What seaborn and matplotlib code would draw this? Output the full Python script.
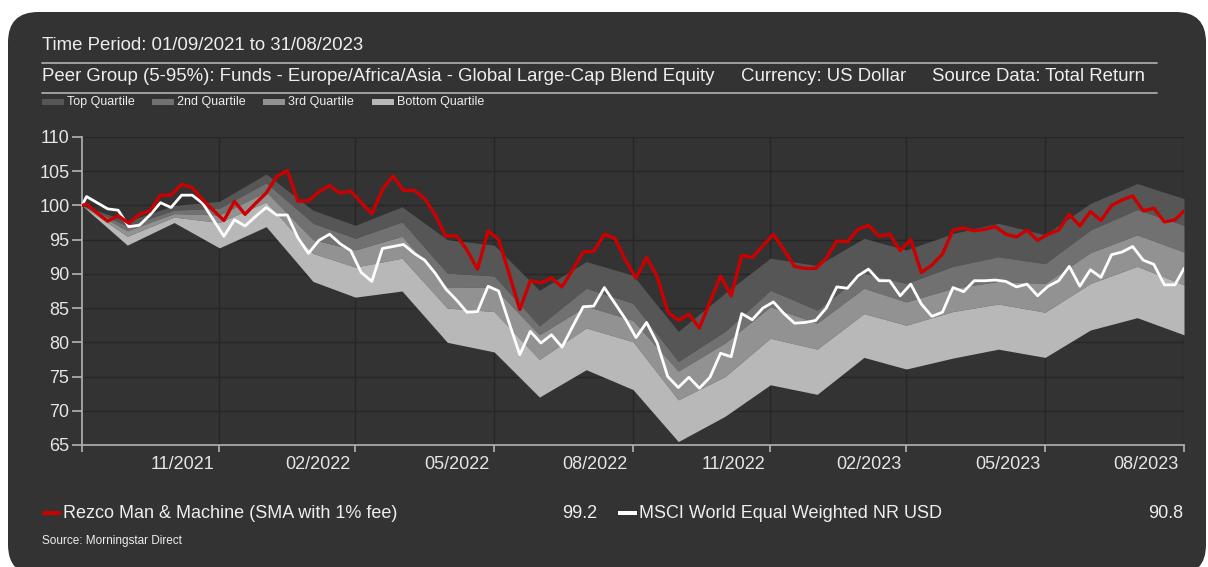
import pandas as pd
import matplotlib.pyplot as plt
import matplotlib.transforms as mtransforms
from matplotlib.patches import FancyBboxPatch, Rectangle
from matplotlib.lines import Line2D
import seaborn as sns

# month-end peer group percentiles (5-95%)
month_ends = ['2021-08-31', '2021-09-30', '2021-10-31', '2021-11-30', '2021-12-31',
              '2022-01-31', '2022-02-28', '2022-03-31', '2022-04-30', '2022-05-31',
              '2022-06-30', '2022-07-31', '2022-08-31', '2022-09-30', '2022-10-31',
              '2022-11-30', '2022-12-31', '2023-01-31', '2023-02-28', '2023-03-31',
              '2023-04-30', '2023-05-31', '2023-06-30', '2023-07-31', '2023-08-31']
p95 = [100, 97.7, 100.0, 100.6, 104.6, 99.3, 97.1, 99.8, 95.0, 94.2, 87.6, 91.8, 89.8,
       81.6, 87.2, 92.3, 91.2, 95.2, 93.5, 95.9, 97.4, 95.7, 100.3, 103.2, 101.0]
p75 = [100, 97.0, 99.3, 99.6, 103.3, 97.4, 95.2, 97.6, 90.1, 89.7, 82.4, 87.9, 85.7,
       77.2, 81.6, 87.6, 84.7, 90.1, 88.6, 91.1, 92.5, 91.5, 96.4, 99.4, 97.1]
p50 = [100, 96.3, 98.8, 98.6, 102.0, 95.0, 93.5, 95.5, 88.1, 88.0, 81.1, 85.3, 83.2,
       75.8, 79.9, 85.2, 82.8, 87.9, 85.9, 87.9, 88.9, 88.6, 93.1, 95.7, 93.2]
p25 = [100, 95.5, 98.3, 97.5, 100.5, 93.0, 91.0, 92.3, 85.0, 84.5, 77.5, 82.1, 80.1,
       71.6, 75.0, 80.6, 79.0, 84.2, 82.5, 84.5, 85.6, 84.4, 88.6, 91.1, 88.4]
p05 = [100, 94.2, 97.5, 93.8, 96.9, 88.9, 86.6, 87.5, 80.0, 78.6, 72.0, 76.0, 73.1,
       65.5, 69.2, 73.8, 72.4, 77.8, 76.1, 77.7, 79.0, 77.8, 81.8, 83.6, 81.1]

# weekly series: start, Fridays, end
fridays = pd.date_range('2021-09-03', periods=104, freq='7D')
week_dates = [pd.Timestamp('2021-08-31')] + list(fridays) + [pd.Timestamp('2023-08-31')]
rezco = [100.0,
         100.2, 98.9, 97.7, 98.5, 97.4, 98.7, 99.2, 101.5, 101.5, 103.1,
         102.6, 100.8, 99.3, 97.8, 100.6, 98.7, 100.3, 101.8, 104.2, 105.1,
         100.6, 100.7, 102.0, 102.9, 101.8, 102.1, 100.4, 98.8, 102.3, 104.3,
         102.2, 102.2, 101.0, 98.6, 95.5, 95.6, 93.5, 90.7, 96.3, 95.0,
         90.0, 84.8, 89.0, 88.7, 89.4, 88.1, 90.6, 93.2, 93.3, 95.8,
         95.2, 92.0, 89.4, 92.4, 89.6, 84.5, 83.2, 84.1, 82.1, 85.9,
         89.7, 86.8, 92.7, 92.4, 94.1, 95.8, 93.5, 91.1, 90.8, 90.8,
         92.3, 94.8, 94.7, 96.5, 97.1, 95.5, 95.8, 93.4, 95.0, 90.2,
         91.3, 92.9, 96.4, 96.7, 96.3, 96.5, 96.9, 95.8, 95.4, 96.4,
         94.9, 95.8, 96.4, 98.7, 97.0, 99.1, 97.8, 100.0, 100.8, 101.4,
         99.2, 99.6, 97.6, 97.9,
         99.2]
msci = [100.0,
        101.3, 100.4, 99.5, 99.3, 96.9, 97.1, 98.6, 100.4, 99.7, 101.5,
        101.5, 100.3, 97.9, 95.5, 97.9, 97.0, 98.4, 99.7, 98.6, 98.6,
        95.3, 93.0, 94.9, 95.8, 94.4, 93.4, 90.2, 88.9, 93.7, 94.0,
        94.3, 93.0, 92.0, 90.1, 87.8, 86.2, 84.4, 84.5, 88.2, 87.5,
        82.8, 78.2, 81.6, 79.9, 81.1, 79.3, 82.3, 85.2, 85.3, 88.0,
        85.7, 83.4, 80.7, 82.9, 79.9, 75.0, 73.4, 74.9, 73.3, 74.9,
        78.4, 77.9, 84.2, 83.3, 85.0, 85.9, 84.2, 82.8, 82.9, 83.2,
        85.0, 88.1, 87.9, 89.7, 90.7, 89.0, 89.0, 86.8, 88.5, 85.6,
        83.8, 84.4, 88.0, 87.4, 89.0, 89.0, 89.1, 88.9, 88.1, 88.5,
        86.8, 88.2, 89.0, 91.1, 88.2, 90.6, 89.5, 92.8, 93.2, 94.0,
        92.0, 91.4, 88.4, 88.4,
        90.8]

tick_dates = ['2021-08-31', '2021-11-30', '2022-02-28', '2022-05-31', '2022-08-31',
              '2022-11-30', '2023-02-28', '2023-05-31', '2023-08-31']
tick_labels = ['', '11/2021', '02/2022', '05/2022', '08/2022',
               '11/2022', '02/2023', '05/2023', '08/2023']
quartile_names = ['Top Quartile', '2nd Quartile', '3rd Quartile', 'Bottom Quartile']
quartile_colors = ['#565656', '#717171', '#929292', '#b8b8b8']
series_names = ['Rezco Man & Machine (SMA with 1% fee)', 'MSCI World Equal Weighted NR USD']
series_colors = ['#cc0000', '#ffffff']

sns.set_style('dark')
plt.rcParams['font.family'] = ['Liberation Sans', 'DejaVu Sans']

W, H = 1208, 567
fig = plt.figure(figsize=(W / 100, H / 100), dpi=100, facecolor='white')

def fx(x):
    return x / W

def fy(y):
    return 1 - y / H

# rounded dark panel
panel = FancyBboxPatch((fx(8), fy(575)), fx(1198), 563 / H,
                       boxstyle='round,pad=0,rounding_size=0.025',
                       transform=fig.transFigure, facecolor='#333333',
                       edgecolor='none', zorder=-10, mutation_aspect=W / H)
fig.patches.append(panel)

ax = fig.add_axes([fx(82), fy(445), fx(1184 - 82), 308 / H])
ax.set_facecolor('#333333')

me = pd.to_datetime(month_ends)
bounds = [p95, p75, p50, p25, p05]
for i in range(4):
    ax.fill_between(me, bounds[i + 1], bounds[i], color=quartile_colors[i],
                    linewidth=0, zorder=2)

df = pd.DataFrame({'date': week_dates, 'rezco': rezco, 'msci': msci})
sns.lineplot(data=df, x='date', y='msci', color=series_colors[1], linewidth=2.0,
             ax=ax, zorder=4)
sns.lineplot(data=df, x='date', y='rezco', color=series_colors[0], linewidth=2.4,
             ax=ax, zorder=5)

ax.set_xlim(pd.Timestamp('2021-08-31'), pd.Timestamp('2023-08-31'))
ax.set_ylim(65, 110)
ax.set_yticks(range(65, 111, 5))
ax.set_xticks(pd.to_datetime(tick_dates))
ax.set_xticklabels(tick_labels)
ax.set_xlabel('')
ax.set_ylabel('')
ax.grid(True, color='#262626', linewidth=1.0, zorder=1)
ax.set_axisbelow(True)

for s in ['top', 'right']:
    ax.spines[s].set_visible(False)
for s in ['left', 'bottom']:
    ax.spines[s].set_visible(True)
    ax.spines[s].set_color('#b4b4b4')
    ax.spines[s].set_linewidth(1.2)

ax.tick_params(axis='y', colors='#b4b4b4', labelcolor='#e6e6e6', labelsize=13,
               length=7, width=1.2, pad=2, left=True)
ax.tick_params(axis='x', colors='#b4b4b4', labelcolor='#e6e6e6', labelsize=13,
               length=5, width=1.2, pad=3, bottom=True)
offset = mtransforms.ScaledTranslation(-5 / 100, 0, fig.dpi_scale_trans)
for lab in ax.get_xticklabels():
    lab.set_horizontalalignment('right')
    lab.set_transform(lab.get_transform() + offset)

# header
txt = '#eeeeee'
fig.text(fx(42), fy(45), 'Time Period: 01/09/2021 to 31/08/2023', color=txt,
         fontsize=13.4, va='center')
fig.text(fx(42), fy(77), 'Peer Group (5-95%): Funds - Europe/Africa/Asia - Global Large-Cap Blend Equity',
         color=txt, fontsize=13.4, va='center')
fig.text(fx(741), fy(77), 'Currency: US Dollar', color=txt, fontsize=13.4, va='center')
fig.text(fx(932), fy(77), 'Source Data: Total Return', color=txt, fontsize=13.4, va='center')
for yy in [63, 93]:
    fig.add_artist(Line2D([fx(42), fx(1157)], [fy(yy), fy(yy)], color='#a8a8a8',
                          linewidth=1.3, transform=fig.transFigure))

qx = [42, 152, 263, 372]
for name, col, x0 in zip(quartile_names, quartile_colors, qx):
    fig.patches.append(Rectangle((fx(x0), fy(105)), fx(22), 6 / H, facecolor=col,
                                 edgecolor='none', transform=fig.transFigure))
    fig.text(fx(x0 + 25), fy(102), name, color=txt, fontsize=9, va='center')

# bottom legend
for name, col, x0, val, xv in zip(series_names, series_colors, [42, 618],
                                  [rezco[-1], msci[-1]], [597, 1183]):
    fig.patches.append(Rectangle((fx(x0), fy(515)), fx(19), 4 / H, facecolor=col,
                                 edgecolor='none', transform=fig.transFigure))
    fig.text(fx(x0 + 21), fy(513), name, color=txt, fontsize=13, va='center')
    fig.text(fx(xv), fy(513), f'{val:.1f}', color=txt, fontsize=13, va='center', ha='right')

fig.text(fx(42), fy(541), 'Source: Morningstar Direct', color=txt, fontsize=8.5, va='center')

plt.savefig('out.png', dpi=100, facecolor='white')
